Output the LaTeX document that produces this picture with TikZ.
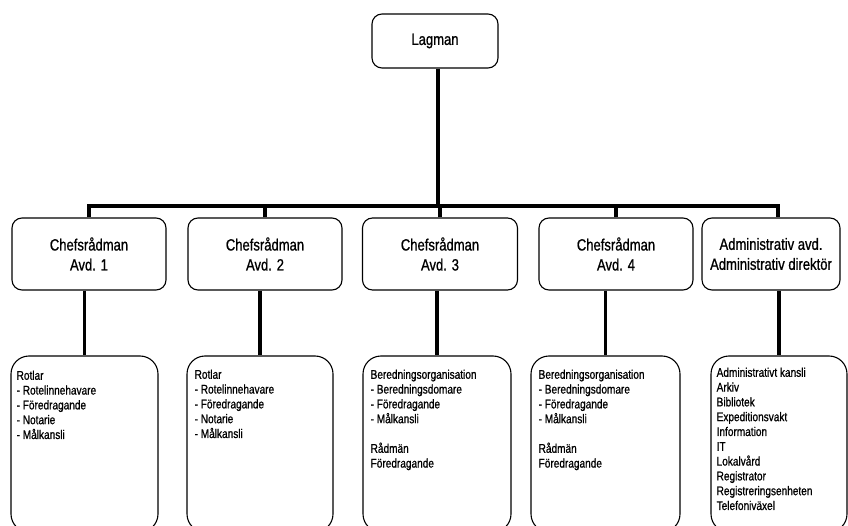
\documentclass[tikz,border=0pt]{standalone}
\usepackage{fontspec}
\setmainfont{Liberation Sans}[FakeStretch=0.8,FakeBold=0.9]
\begin{document}
\begin{tikzpicture}[x=1pt,y=-1pt,
  headbox/.style={draw, line width=1.1pt, rounded corners=10pt, align=center,
    inner sep=0pt, minimum height=72pt, font=\fontsize{16.3}{20}\selectfont},
  listbox/.style={draw, line width=1.1pt, rounded corners=18pt, inner sep=0pt,
    minimum height=176pt},
  listtext/.style={anchor=north west, align=left, inner sep=0pt,
    font=\fontsize{12.6}{14.8}\selectfont},
  link/.style={line width=3.2pt}]
\useasboundingbox (0,0) rectangle (848,526);
\clip (0,0) rectangle (848,526);

% top level
\node[headbox, minimum width=126pt, minimum height=54pt] (lag) at (435,41) {Lagman};

% department heads
\node[headbox, minimum width=154pt] (b1) at (89,254)  {Chefsrådman\\Avd. 1};
\node[headbox, minimum width=154pt] (b2) at (265,254) {Chefsrådman\\Avd. 2};
\node[headbox, minimum width=155pt] (b3) at (440,254) {Chefsrådman\\Avd. 3};
\node[headbox, minimum width=154pt] (b4) at (616,254) {Chefsrådman\\Avd. 4};
\node[headbox, minimum width=138pt] (b5) at (771,254) {Administrativ avd.\\Administrativ direktör};

% department contents
\node[listbox, minimum width=147pt] (l1) at (84.5,444) {};
\node[listbox, minimum width=146pt] (l2) at (260,444)  {};
\node[listbox, minimum width=148pt] (l3) at (437,444)  {};
\node[listbox, minimum width=149pt] (l4) at (605.5,444) {};
\node[listbox, minimum width=136pt] (l5) at (779,444)  {};

\node[listtext] (t1) at ([shift={(6,15)}]l1.north west)
  {Rotlar\\- Rotelinnehavare\\- Föredragande\\- Notarie\\- Målkansli};
\node[listtext] (t2) at ([shift={(8,14)}]l2.north west)
  {Rotlar\\- Rotelinnehavare\\- Föredragande\\- Notarie\\- Målkansli};
\node[listtext] (t3) at ([shift={(8,14)}]l3.north west)
  {Beredningsorganisation\\- Beredningsdomare\\- Föredragande\\- Målkansli\\[14.8pt]Rådmän\\Föredragande};
\node[listtext] (t4) at ([shift={(8,14)}]l4.north west)
  {Beredningsorganisation\\- Beredningsdomare\\- Föredragande\\- Målkansli\\[14.8pt]Rådmän\\Föredragande};
\node[listtext] (t5) at ([shift={(6,12)}]l5.north west)
  {Administrativt kansli\\Arkiv\\Bibliotek\\Expeditionsvakt\\Information\\IT\\Lokalvård\\Registrator\\Registreringsenheten\\Telefoniväxel};

% connectors
\coordinate (busL) at (89,206);
\coordinate (busR) at (778,206);
\draw[link] ([xshift=3pt]lag.south) -- ([xshift=3pt]lag.south |- busL);
\draw[link] (b1.north) -- (busL) -- (busR) -- (busR |- b5.north);
\foreach \b in {b2,b3,b4} \draw[link] (\b.north) -- (\b.north |- busL);
\foreach \i in {1,...,5} \draw[link] (b\i.south -| l\i.north) -- (l\i.north);
\end{tikzpicture}
\end{document}
